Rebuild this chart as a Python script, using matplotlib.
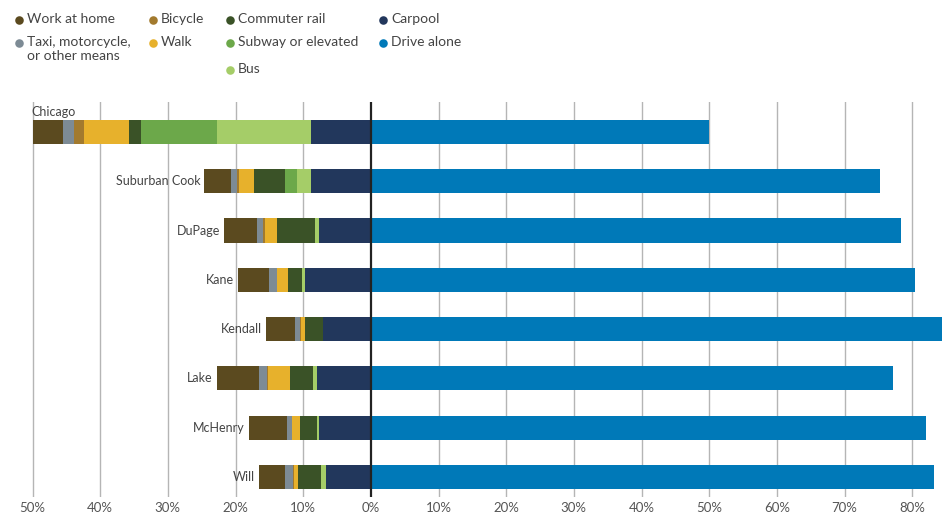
import numpy as np
import matplotlib.pyplot as plt

plt.rcParams['font.family'] = ['Lato', 'DejaVu Sans']

# counties, top to bottom
places = ['Chicago', 'Suburban Cook', 'DuPage', 'Kane', 'Kendall', 'Lake', 'McHenry', 'Will']

# shares in percent
carpool = [8.8, 8.9, 7.6, 9.7, 7.1, 7.9, 7.6, 6.6]
bus = [14.0, 2.0, 0.6, 0.5, 0.0, 0.7, 0.3, 0.7]
subway = [11.1, 1.8, 0.0, 0.0, 0.0, 0.0, 0.0, 0.0]
commuter_rail = [1.8, 4.6, 5.7, 2.1, 2.7, 3.4, 2.5, 3.4]
walk = [6.7, 2.2, 1.8, 1.5, 0.5, 3.2, 1.2, 0.7]
bicycle = [1.5, 0.3, 0.2, 0.1, 0.1, 0.1, 0.1, 0.1]
taxi_other = [1.6, 0.9, 0.9, 1.1, 0.8, 1.2, 0.7, 1.2]
work_at_home = [4.4, 3.9, 4.9, 4.6, 4.3, 6.3, 5.6, 3.9]
drive_alone = [50.0, 75.3, 78.3, 80.4, 84.4, 77.1, 82.0, 83.2]

x_ticks = [-50, -40, -30, -20, -10, 0, 10, 20, 30, 40, 50, 60, 70, 80]

colors = {
    'Work at home': '#5b4a1f',
    'Bicycle': '#a27a2e',
    'Commuter rail': '#3a5227',
    'Carpool': '#22375c',
    'Taxi, motorcycle,\nor other means': '#7d8b95',
    'Walk': '#e7b12c',
    'Subway or elevated': '#6ca84a',
    'Drive alone': '#0079b8',
    'Bus': '#a5cd68',
}

# stacked leftwards from zero, innermost first
left_stack = [
    (carpool, 'Carpool'),
    (bus, 'Bus'),
    (subway, 'Subway or elevated'),
    (commuter_rail, 'Commuter rail'),
    (walk, 'Walk'),
    (bicycle, 'Bicycle'),
    (taxi_other, 'Taxi, motorcycle,\nor other means'),
    (work_at_home, 'Work at home'),
]

W, H = 946, 516
fig = plt.figure(figsize=(W / 100, H / 100), dpi=100)
ax = fig.add_axes([19 / W, 19.3 / H, 927 / W, 394.3 / H])

y = np.arange(len(places))
bar_h = 0.49

for xv in x_ticks:
    if xv != 0:
        ax.axvline(xv, color='#b5b5b5', lw=1.0, zorder=0)

offset = np.zeros(len(places))
for vals, name in left_stack:
    v = np.array(vals)
    ax.barh(y, -v, left=-offset, height=bar_h, color=colors[name], zorder=2, lw=0)
    offset += v

ax.barh(y, drive_alone, height=bar_h, color=colors['Drive alone'], zorder=2, lw=0)
ax.axvline(0, color='#222222', lw=1.6, zorder=3)

for i, name in enumerate(places):
    if i == 0:
        ax.text(-50.2, y[i] - bar_h / 2 - 0.04, name, ha='left', va='bottom',
                fontsize=9, color='#444444')
    else:
        ax.text(-offset[i] - 0.6, y[i], name, ha='right', va='center',
                fontsize=9, color='#444444')

ax.set_xlim(-52, 85)
ax.set_ylim(len(places) - 0.6, -0.6)
ax.set_xticks(x_ticks)
ax.set_xticklabels([f'{abs(t)}%' for t in x_ticks], fontsize=9.5, color='#555555')
ax.tick_params(axis='x', length=0, pad=4)
ax.set_yticks([])
for s in ax.spines.values():
    s.set_visible(False)

# legend drawn by hand, column-wise as in the original
leg = fig.add_axes([0, 0, 1, 1])
leg.set_xlim(0, W)
leg.set_ylim(H, 0)
leg.axis('off')
legend_cols = [
    (19, [('Work at home', 20), ('Taxi, motorcycle,\nor other means', 43)]),
    (153, [('Bicycle', 20), ('Walk', 43)]),
    (230, [('Commuter rail', 20), ('Subway or elevated', 43), ('Bus', 70)]),
    (383, [('Carpool', 20), ('Drive alone', 43)]),
]
for cx, entries in legend_cols:
    for name, cy in entries:
        leg.scatter([cx], [cy], s=38, color=colors[name], lw=0)
        leg.text(cx + 8, cy - 7, name, ha='left', va='top', fontsize=10,
                 color='#444444', linespacing=1.25)

fig.savefig('out.png', dpi=100)
